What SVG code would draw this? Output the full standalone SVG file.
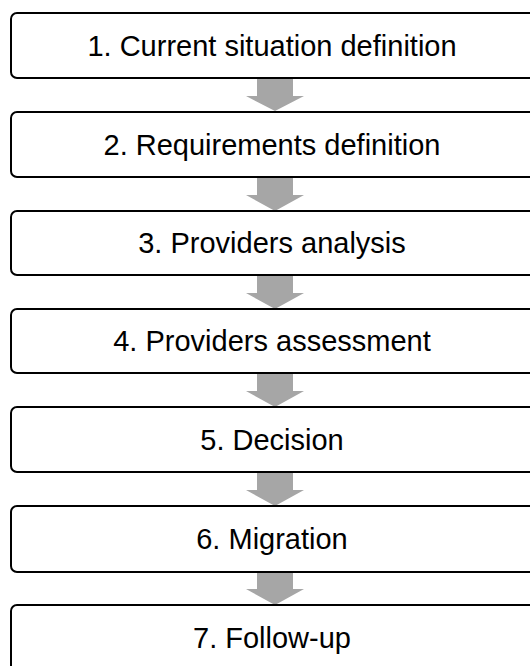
<svg xmlns="http://www.w3.org/2000/svg" width="530" height="666" viewBox="0 0 530 666">
<style>
.box{fill:#fff;stroke:#000;stroke-width:2}
.lbl{font-family:"Liberation Sans",Arial,sans-serif;font-size:29px;fill:#000;text-anchor:middle}
.arr{fill:#a6a6a6}
</style>
<rect width="530" height="666" fill="#fff"/>
<g id="connectors">
<polygon class="arr" points="257,78 293,78 293,96 304,96 275,111 246,96 257,96"/>
<polygon class="arr" points="257,177 293,177 293,195 304,195 275,211 246,195 257,195"/>
<polygon class="arr" points="257,275 293,275 293,293 304,293 275,309 246,293 257,293"/>
<polygon class="arr" points="257,373 293,373 293,391 304,391 275,407 246,391 257,391"/>
<polygon class="arr" points="257,472 293,472 293,490 304,490 275,506 246,490 257,490"/>
<polygon class="arr" points="257,572 293,572 293,589 304,589 275,605 246,589 257,589"/>
</g>
<g id="n1"><rect class="box" x="11" y="13" width="528" height="65" rx="6"/><text class="lbl" x="272" y="56">1. Current situation definition</text></g>
<g id="n2"><rect class="box" x="11" y="112" width="528" height="65" rx="6"/><text class="lbl" x="272" y="155">2. Requirements definition</text></g>
<g id="n3"><rect class="box" x="11" y="211" width="528" height="64" rx="6"/><text class="lbl" x="272" y="253">3. Providers analysis</text></g>
<g id="n4"><rect class="box" x="11" y="309" width="528" height="64" rx="6"/><text class="lbl" x="272" y="351">4. Providers assessment</text></g>
<g id="n5"><rect class="box" x="11" y="407" width="528" height="65" rx="6"/><text class="lbl" x="272" y="450">5. Decision</text></g>
<g id="n6"><rect class="box" x="11" y="506" width="528" height="66" rx="6"/><text class="lbl" x="272" y="549">6. Migration</text></g>
<g id="n7"><rect class="box" x="11" y="605" width="528" height="70" rx="6"/><text class="lbl" x="272" y="648">7. Follow-up</text></g>
</svg>
